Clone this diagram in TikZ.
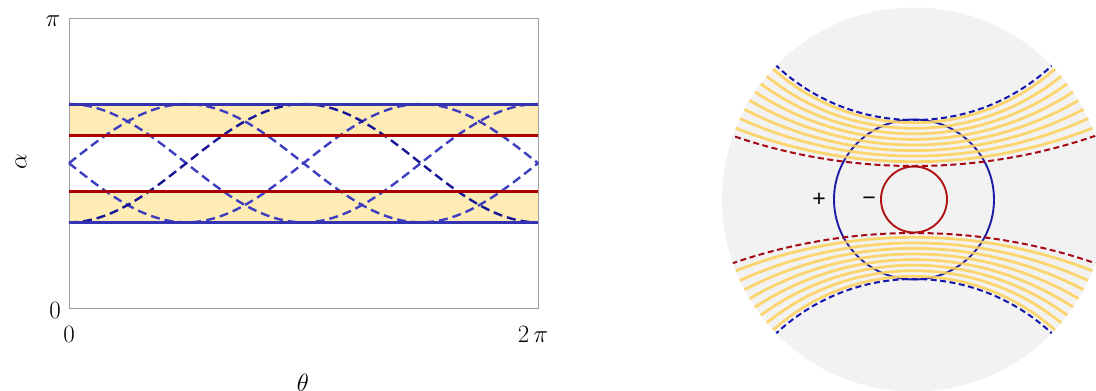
\documentclass[tikz,border=0pt]{standalone}
\usepackage{fontspec}
\newfontfamily\pmfont{Liberation Sans}
\definecolor{bandyellow}{RGB}{255,235,180}
\definecolor{plotblue}{RGB}{52,52,178}
\definecolor{navyblue}{RGB}{22,22,150}
\definecolor{midblue}{RGB}{62,62,192}
\definecolor{plotred}{RGB}{172,0,0}
\definecolor{diskgray}{RGB}{242,242,242}
\definecolor{lineyellow}{RGB}{255,210,92}
\definecolor{circblue}{RGB}{28,28,165}
\definecolor{circred}{RGB}{175,20,20}
\definecolor{dashblue}{RGB}{20,20,175}
\definecolor{dashred}{RGB}{165,10,20}
\begin{document}
\begin{tikzpicture}[x=1pt,y=-1pt,
  lbl/.style={inner sep=0pt,font=\fontsize{35}{42}\selectfont},
  pm/.style={inner sep=0pt,font=\pmfont\fontsize{23}{27}\selectfont},
  solidline/.style={line width=3pt},
  ldash/.style={line width=2.4pt,dash pattern=on 9pt off 5pt},
  rdash/.style={line width=2pt,dash pattern=on 6pt off 3.5pt},
  yline/.style={lineyellow,line width=2.8pt,opacity=0.88}]
\clip (0,0) rectangle (1096,391);
\fill[white] (0,0) rectangle (1096,391);
% ---------------- left plot ----------------
\fill[bandyellow] (69,104) rectangle (538,135);
\fill[bandyellow] (69,191.7) rectangle (538,222.3);
\draw[gray!75,line width=0.9pt] (69,18) rectangle (538,308);
\draw[ldash,midblue,domain=0:360,samples=120,variable=\t]
  plot ({69+1.302778*\t},{163.2-59.15*cos(\t)});
\draw[ldash,midblue,domain=0:360,samples=120,variable=\t]
  plot ({69+1.302778*\t},{163.2-59.15*sin(\t)});
\draw[ldash,midblue,domain=0:360,samples=120,variable=\t]
  plot ({69+1.302778*\t},{163.2+59.15*sin(\t)});
\draw[ldash,navyblue,domain=0:360,samples=120,variable=\t]
  plot ({69+1.302778*\t},{163.2+59.15*cos(\t)});
\draw[solidline,plotred] (69,135) -- (538,135);
\draw[solidline,plotred] (69,191.5) -- (538,191.5);
\draw[solidline,plotblue] (69,104) -- (538,104);
\draw[solidline,plotblue] (69,222.3) -- (538,222.3);
\node[lbl] (ypi) at (53,21) {$\pi$};
\node[lbl] (yzero) at (55,310) {$0$};
\node[lbl] (xzero) at (69,334) {$0$};
\node[lbl] (xtwopi) at (533,334) {$2\,\pi$};
\node[lbl,rotate=90] (alab) at (21,162) {$\alpha$};
\node[lbl] (tlab) at (303,383) {$\theta$};
% ---------------- right disk ----------------
\fill[diskgray] (914,199.5) circle[radius=192pt];
\draw[circblue,line width=1.9pt] (914,199.5) circle[radius=80pt];
\draw[circred,line width=1.9pt] (914,199.5) circle[radius=33pt];
\begin{scope}
  \clip (914,199.5) circle[radius=192pt];
  \foreach \v in {76.8,71.2,65.7,60.1,54.5,48.9,43.4,37.8}{
    \pgfmathsetmacro\hh{\v/196}
    \pgfmathsetmacro\dd{196*(\hh+1/\hh)/2}
    \pgfmathsetmacro\rr{196*(1/\hh-\hh)/2}
    \draw[yline] (914,{199.5-\dd}) circle[radius=\rr pt];
    \draw[yline] (914,{199.5+\dd}) circle[radius=\rr pt];
  }
  \foreach \v/\c in {79.5/dashblue,33.5/dashred}{
    \pgfmathsetmacro\hh{\v/196}
    \pgfmathsetmacro\dd{196*(\hh+1/\hh)/2}
    \pgfmathsetmacro\rr{196*(1/\hh-\hh)/2}
    \draw[rdash,\c] (914,{199.5-\dd}) circle[radius=\rr pt];
    \draw[rdash,\c] (914,{199.5+\dd}) circle[radius=\rr pt];
  }
\end{scope}
\node[pm] (plus) at (819,200) {+};
\node[pm] (minus) at (869,201) {−};
\end{tikzpicture}
\end{document}
